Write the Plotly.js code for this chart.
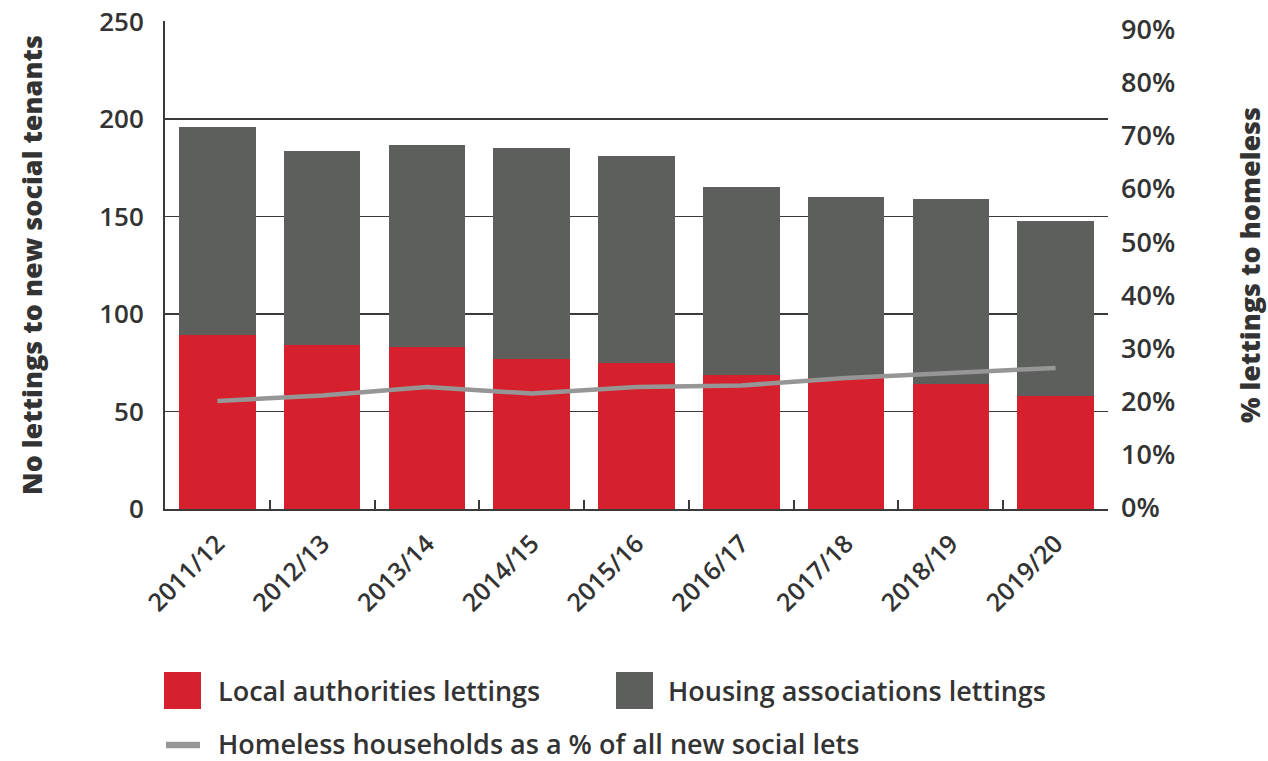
<!DOCTYPE html>
<html>
<head>
<meta charset="utf-8">
<script src="https://cdn.plot.ly/plotly-3.0.1.min.js"></script>
<style>
  html, body { margin: 0; padding: 0; background: #ffffff; }
  #chart { width: 1268px; height: 761px; }
</style>
</head>
<body>
<div id="chart"></div>
<script>
// ---- Data ----
const years = ["2011/12", "2012/13", "2013/14", "2014/15", "2015/16", "2016/17", "2017/18", "2018/19", "2019/20"];
const totalLettings = [196.2, 183.9, 187.0, 185.0, 180.9, 165.0, 159.9, 158.9, 147.6];
const localAuthorityLettings = [89.3, 84.1, 83.1, 77.0, 75.0, 68.8, 67.0, 64.2, 58.0];
const housingAssociationLettings = totalLettings.map((t, i) => +(t - localAuthorityLettings[i]).toFixed(1));
const homelessPct = [20.1, 21.1, 22.7, 21.5, 22.7, 23.0, 24.4, 25.4, 26.3];
const seriesNames = ["Local authorities lettings", "Housing associations lettings", "Homeless households as a % of all new social lets"];
const leftAxisTitle = "No lettings to new social tenants";
const rightAxisTitle = "% lettings to homeless";

// ---- Styles ----
const RED = "#d7202e";
const DARK = "#5d5f5c";
const LINEGRAY = "#959695";
const TEXT = "#333333";
const AXIS = "#3a3a3a";
const FONT = "'Open Sans', Lato, sans-serif";

const W = 1268, H = 761;
const M = { l: 165, r: 160, t: 21, b: 252 };
const plotW = W - M.l - M.r, plotH = H - M.t - M.b;
const px2x = (px) => (px - M.l) / plotW;
const px2y = (py) => (H - M.b - py) / plotH;

const traces = [
  {
    type: "bar", name: seriesNames[0], x: years, y: localAuthorityLettings,
    marker: { color: RED }, showlegend: false
  },
  {
    type: "bar", name: seriesNames[1], x: years, y: housingAssociationLettings,
    marker: { color: DARK }, showlegend: false
  },
  {
    type: "scatter", mode: "lines", name: seriesNames[2], x: years, y: homelessPct,
    yaxis: "y2", line: { color: LINEGRAY, width: 4.5 }, showlegend: false
  }
];

// Manual legend (large swatches as in the reference)
const legendFont = { family: FONT, size: 27, color: TEXT, weight: 600 };
const shapes = [
  { type: "rect", xref: "paper", yref: "paper", x0: px2x(164), x1: px2x(201), y0: px2y(709), y1: px2y(672),
    fillcolor: RED, line: { width: 0 } },
  { type: "rect", xref: "paper", yref: "paper", x0: px2x(616), x1: px2x(653), y0: px2y(709), y1: px2y(672),
    fillcolor: DARK, line: { width: 0 } },
  { type: "line", xref: "paper", yref: "paper", x0: px2x(166), x1: px2x(200), y0: px2y(745), y1: px2y(745),
    line: { color: LINEGRAY, width: 6.5 } }
];
const annotations = [
  { xref: "paper", yref: "paper", x: px2x(216), y: px2y(690), xanchor: "left", yanchor: "middle",
    text: seriesNames[0], showarrow: false, font: legendFont },
  { xref: "paper", yref: "paper", x: px2x(666), y: px2y(690), xanchor: "left", yanchor: "middle",
    text: seriesNames[1], showarrow: false, font: legendFont },
  { xref: "paper", yref: "paper", x: px2x(216), y: px2y(743), xanchor: "left", yanchor: "middle",
    text: seriesNames[2], showarrow: false, font: legendFont }
];

const layout = {
  width: W, height: H,
  margin: M,
  paper_bgcolor: "#ffffff", plot_bgcolor: "#ffffff",
  font: { family: FONT, color: TEXT },
  barmode: "stack",
  bargap: 0.27,
  showlegend: false,
  xaxis: {
    type: "category",
    tickson: "boundaries",
    ticks: "inside", ticklen: 9, tickwidth: 2, tickcolor: AXIS,
    showline: true, linecolor: AXIS, linewidth: 2,
    showgrid: false,
    tickangle: -45,
    ticklabelstandoff: 8,
    tickfont: { family: FONT, size: 25, color: TEXT, weight: 600 }
  },
  yaxis: {
    range: [0, 250.4], tick0: 0, dtick: 50,
    showline: true, linecolor: AXIS, linewidth: 2,
    showgrid: true, gridcolor: AXIS, gridwidth: 1.5,
    zeroline: false,
    ticks: "",
    ticklabelstandoff: 14,
    tickfont: { family: FONT, size: 26, color: TEXT, weight: 600 },
    title: { text: leftAxisTitle, font: { family: FONT, size: 27, color: TEXT, weight: 800 }, standoff: 49 }
  },
  yaxis2: {
    overlaying: "y", side: "right",
    range: [-0.26, 91.64],
    tickmode: "linear", tick0: 0, dtick: 10,
    ticksuffix: "%",
    showgrid: false, zeroline: false, showline: false,
    ticks: "",
    ticklabelstandoff: 12,
    tickfont: { family: FONT, size: 27, color: TEXT, weight: 600 },
    title: { text: rightAxisTitle, font: { family: FONT, size: 27, color: TEXT, weight: 800 }, standoff: 67 }
  },
  shapes: shapes,
  annotations: annotations
};

Plotly.newPlot("chart", traces, layout, { displayModeBar: false, staticPlot: true });
</script>
</body>
</html>
